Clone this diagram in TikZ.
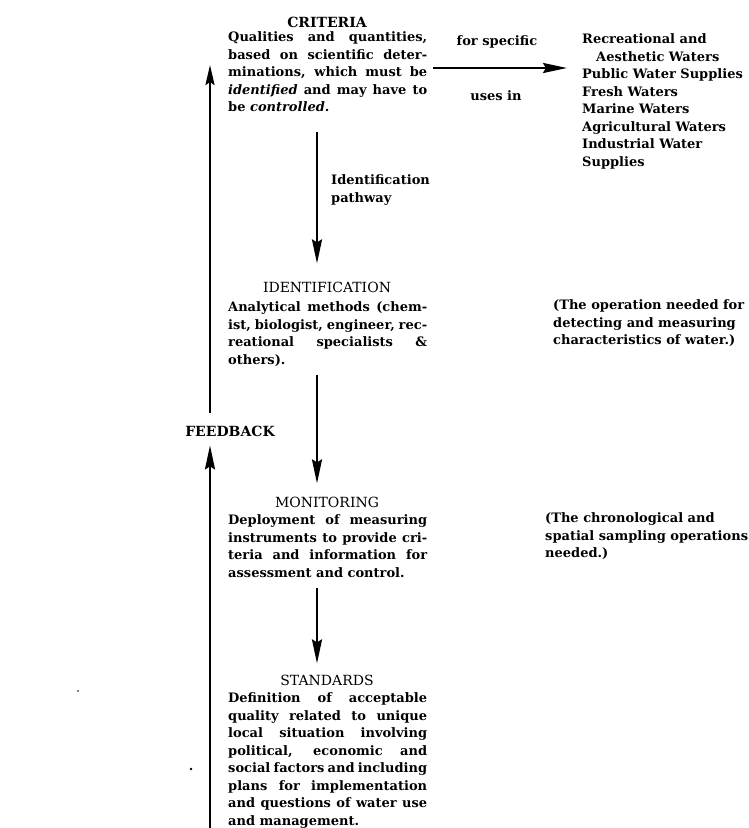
\documentclass[tikz,border=0pt]{standalone}
\usepackage{fontspec}
\setmainfont{DejaVu Serif}
\usetikzlibrary{arrows.meta}
% a full-measure justified line of a text column
\newcommand{\jline}[1]{\makebox[199pt][s]{#1}}
\begin{document}
\begin{tikzpicture}[x=1pt,y=-1pt,
  txt/.style={font=\bfseries\fontsize{13}{17.5}\selectfont, inner sep=0pt},
  body/.style={txt, anchor=north west, align=left},
  ttl/.style={font=\fontsize{14}{17}\selectfont, inner sep=0pt, anchor=base},
  arr/.style={line width=2.5pt, -{Stealth[length=24pt,width=10pt,inset=3pt]}}]
\useasboundingbox (0,0) rectangle (748,828);

% headings
\node[ttl, font=\bfseries\fontsize{14}{17}\selectfont] (crittitle) at (327,27) {CRITERIA};
\node[ttl] (idtitle) at (327,292) {IDENTIFICATION};
\node[ttl] (montitle) at (327,507) {MONITORING};
\node[ttl] (stdtitle) at (327,685) {STANDARDS};
\node[ttl, font=\bfseries\fontsize{14}{17}\selectfont] (fb) at (230,436) {FEEDBACK};

% text columns
\node[body] (critbody) at (228,31.5) {%
  \jline{Qualities and quantities,}\\
  \jline{based on scientific deter-}\\
  \jline{minations, which must be}\\
  \jline{\textit{identified} and may have to}\\
  be \textit{controlled}.};
\node[body] (idbody) at (228,301.5) {%
  \jline{Analytical methods (chem-}\\
  \jline{ist, biologist, engineer, rec-}\\
  \jline{reational specialists \&}\\
  others).};
\node[body] (monbody) at (228,514.5) {%
  \jline{Deployment of measuring}\\
  \jline{instruments to provide cri-}\\
  \jline{teria and information for}\\
  assessment and control.};
\node[body] (stdbody) at (228,692.5) {%
  \jline{Definition of acceptable}\\
  \jline{quality related to unique}\\
  \jline{local situation involving}\\
  \jline{political, economic and}\\
  \jline{social factors and including}\\
  \jline{plans for implementation}\\
  \jline{and questions of water use}\\
  and management.};

% water uses
\node[body] (wlist) at (582,33.5) {%
  Recreational and\\
  \hspace*{14pt}Aesthetic Waters\\
  Public Water Supplies\\
  Fresh Waters\\
  Marine Waters\\
  Agricultural Waters\\
  Industrial Water\\
  Supplies};
\node[txt, anchor=base] (forspec) at (497,45) {for specific};
\node[txt, anchor=base] (usesin) at (496,100) {uses in};

% side notes
\node[body] (pathway) at (331,174.5) {Identification\\pathway};
\node[body] (idnote) at (553,299.5) {%
  (The operation needed for\\
  detecting and measuring\\
  characteristics of water.)};
\node[body] (monnote) at (545,512.5) {%
  (The chronological and\\
  spatial sampling operations\\
  needed.)};

% connectors
\coordinate (spine) at (317,0);
\coordinate (fbx) at (210,0);
\coordinate (hy) at (0,68);
\coordinate (fbtop) at (210,65);
\coordinate (fbbot) at (210,830);

\draw[arr] ([xshift=6pt]critbody.east |- hy) -- ([xshift=-15pt]wlist.west |- hy);
\draw[arr] ([yshift=-20pt]critbody.south -| spine) -- ([yshift=18pt]idtitle.north -| spine);
\draw[arr] ([yshift=-8.5pt]idbody.south -| spine) -- ([yshift=13pt]montitle.north -| spine);
\draw[arr] ([yshift=-10.5pt]monbody.south -| spine) -- ([yshift=11pt]stdtitle.north -| spine);
\draw[arr, -{Stealth[length=20pt,width=9pt,inset=3pt]}] ([yshift=12.5pt]fb.north -| fbx) -- (fbtop);
\draw[arr] (fbbot) -- ([yshift=-9pt]fb.south -| fbx);

% specks
\fill (78,691) circle (0.8);
\fill (191,769) circle (1.3);
\end{tikzpicture}
\end{document}
